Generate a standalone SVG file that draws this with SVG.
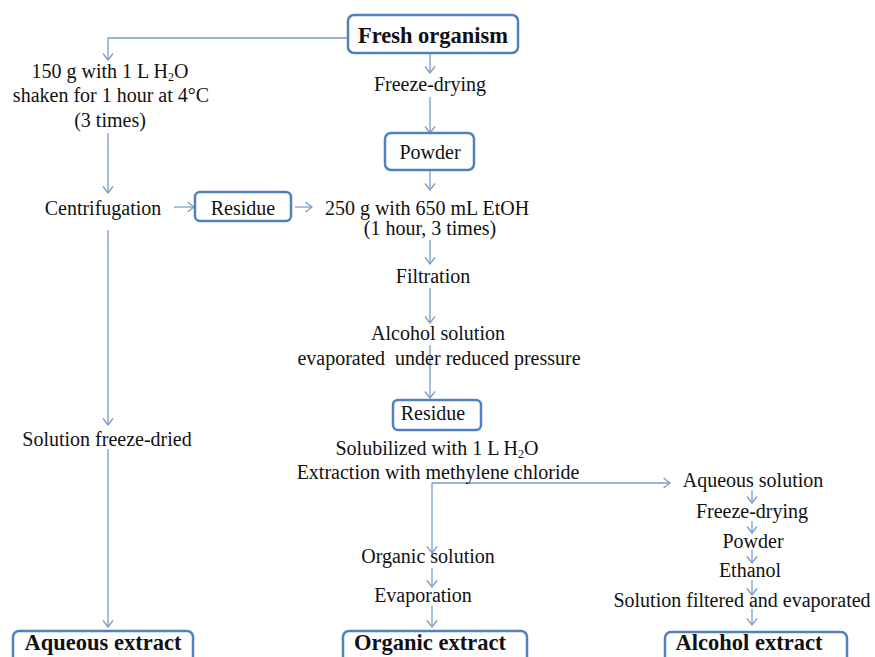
<svg xmlns="http://www.w3.org/2000/svg" width="875" height="657" viewBox="0 0 875 657">
<style>
.t{font-family:"Liberation Serif","Times New Roman",serif;font-size:20px;fill:#111;text-anchor:middle}
.b{font-family:"Liberation Serif","Times New Roman",serif;font-size:22.5px;font-weight:bold;fill:#111;text-anchor:middle}
.box{fill:#fff;stroke:#4F81BD;stroke-width:2.5}
.c{fill:none;stroke:#7B9CC8;stroke-width:1.3}
</style>
<defs>
<marker id="ah" viewBox="-8 -6 9 12" refX="0" refY="0" markerWidth="9" markerHeight="12" markerUnits="userSpaceOnUse" orient="auto">
<path d="M-6.5,-5 L0,0 L-6.5,5" fill="none" stroke="#7B9CC8" stroke-width="1.3"/>
</marker>
</defs>
<rect width="875" height="657" fill="#fff"/>
<g id="connectors">
<path class="c" d="M348,38 H108 V60" marker-end="url(#ah)"/>
<path class="c" d="M430,53 V73" marker-end="url(#ah)"/>
<path class="c" d="M430,97 V133" marker-end="url(#ah)"/>
<path class="c" d="M430,170 V190" marker-end="url(#ah)"/>
<path class="c" d="M108,133 V193" marker-end="url(#ah)"/>
<path class="c" d="M174,207 H194" marker-end="url(#ah)"/>
<path class="c" d="M295,207 H312" marker-end="url(#ah)"/>
<path class="c" d="M430,240 V264" marker-end="url(#ah)"/>
<path class="c" d="M430,288 V323" marker-end="url(#ah)"/>
<path class="c" d="M430,345 V398" marker-end="url(#ah)"/>
<path class="c" d="M108,230 V425" marker-end="url(#ah)"/>
<path class="c" d="M108,449 V627" marker-end="url(#ah)"/>
<path class="c" d="M432,483 V553" marker-end="url(#ah)"/>
<path class="c" d="M432,483 H670" marker-end="url(#ah)"/>
<path class="c" d="M432,568 V587" marker-end="url(#ah)"/>
<path class="c" d="M432,606 V627" marker-end="url(#ah)"/>
<path class="c" d="M752,490 V503" marker-end="url(#ah)"/>
<path class="c" d="M752,521 V533" marker-end="url(#ah)"/>
<path class="c" d="M752,550 V563" marker-end="url(#ah)"/>
<path class="c" d="M752,580 V595" marker-end="url(#ah)"/>
<path class="c" d="M752,609 V625" marker-end="url(#ah)"/>
</g>
<g id="fresh"><rect class="box" x="348" y="15" width="170" height="38" rx="6"/><text class="b" x="433" y="43">Fresh organism</text></g>
<g id="freeze1"><text class="t" x="430" y="91">Freeze-drying</text></g>
<g id="powder1"><rect class="box" x="385" y="133" width="89" height="37" rx="6"/><text class="t" x="430" y="159">Powder</text></g>
<g id="water"><text class="t" x="110" y="78">150 g with 1 L H<tspan font-size="12" dy="3">2</tspan><tspan dy="-3">O</tspan></text>
<text class="t" x="111" y="102">shaken for 1 hour at 4°C</text>
<text class="t" x="110" y="127">(3 times)</text></g>
<g id="centrif"><text class="t" x="103" y="215">Centrifugation</text></g>
<g id="residue1"><rect class="box" x="195" y="192" width="96" height="29" rx="5"/><text class="t" x="243" y="215">Residue</text></g>
<g id="etoh"><text class="t" x="427" y="215">250 g with 650 mL EtOH</text><text class="t" x="430" y="235">(1 hour, 3 times)</text></g>
<g id="filtration"><text class="t" x="433" y="283">Filtration</text></g>
<g id="alcsol"><text class="t" x="438" y="340">Alcohol solution</text><text class="t" x="439" y="365" style="white-space:pre">evaporated  under reduced pressure</text></g>
<g id="residue2"><rect class="box" x="393" y="400" width="88" height="30" rx="5"/><text class="t" x="433" y="420">Residue</text></g>
<g id="solub"><text class="t" x="437" y="455">Solubilized with 1 L H<tspan font-size="12" dy="3">2</tspan><tspan dy="-3">O</tspan></text><text class="t" x="438" y="479">Extraction with methylene chloride</text></g>
<g id="orgsol"><text class="t" x="428" y="563">Organic solution</text></g>
<g id="evap"><text class="t" x="423" y="602">Evaporation</text></g>
<g id="orgext"><rect class="box" x="343" y="631" width="184" height="40" rx="6"/><text class="b" x="430" y="650">Organic extract</text></g>
<g id="solfd"><text class="t" x="107" y="446">Solution freeze-dried</text></g>
<g id="aqext"><rect class="box" x="13" y="631" width="180" height="40" rx="6"/><text class="b" x="103" y="650">Aqueous extract</text></g>
<g id="aqsol"><text class="t" x="753" y="487">Aqueous solution</text></g>
<g id="freeze2"><text class="t" x="752" y="518">Freeze-drying</text></g>
<g id="powder2"><text class="t" x="753" y="548">Powder</text></g>
<g id="ethanol"><text class="t" x="750" y="577">Ethanol</text></g>
<g id="solfilt"><text class="t" x="742" y="607">Solution filtered and evaporated</text></g>
<g id="alcext"><rect class="box" x="665" y="632" width="182" height="40" rx="6"/><text class="b" x="749" y="650">Alcohol extract</text></g>
</svg>
